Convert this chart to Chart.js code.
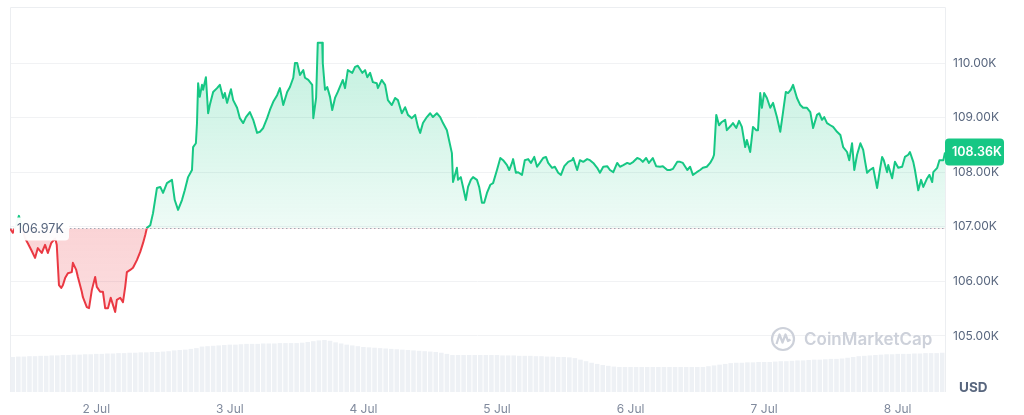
<!DOCTYPE html>
<html><head><meta charset="utf-8">
<script src="https://cdn.jsdelivr.net/npm/chart.js@4.4.1/dist/chart.umd.min.js"></script>
<style>html,body{margin:0;padding:0;background:#fff}canvas{display:block}</style>
</head><body>
<canvas id="c" width="1024" height="415"></canvas>
<script>
// ---- data (hours since 1 Jul 00:00, price in thousands USD) ----
const times = [
 8.5,9.0,9.6,10.1,10.7,11.2,11.7,12.3,13.0,13.5,14.2,14.8,15.3,15.9,16.6,16.9,17.3,17.7,18.0,18.4,18.9,19.6,19.8,20.4,20.7,21.4,21.6,22.3,22.7,23.2,23.8,24.1,24.7,25.2,25.6,26.1,26.6,27.0,27.4,27.7,28.3,28.8,29.2,29.5,30.1,30.6,31.3,31.9,32.4,32.8,33.1,33.7,
 34.2,34.9,35.5,36.0,36.7,37.6,38.1,38.7,39.4,39.9,40.5,41.2,41.4,41.9,42.1,42.3,42.6,43.0,43.2,43.7,
 44.1,44.4,45.0,45.7,46.2,46.8,47.1,47.5,48.2,48.6,49.3,49.8,50.4,50.9,51.6,52.2,52.9,53.4,54.0,54.7,
 55.2,55.8,56.5,57.0,57.6,58.3,58.8,59.4,59.7,60.1,60.6,61.2,61.5,62.1,62.8,63.0,63.5,63.8,64.6,64.7,
 65.1,65.5,66.0,66.4,66.9,67.4,68.3,68.7,69.2,70.0,70.5,71.0,71.8,72.3,72.7,73.2,73.7,74.4,74.6,75.3,
 75.9,76.4,77.1,77.7,78.2,78.9,79.5,80.0,80.7,81.3,81.8,82.2,82.7,83.4,84.0,84.5,85.2,85.8,86.3,87.0,
 87.9,88.1,88.8,89.0,89.5,89.9,90.4,90.8,91.3,91.7,92.4,92.8,93.3,93.7,94.2,94.8,95.3,96.0,96.6,97.1,
 97.8,98.2,98.7,98.9,99.4,99.8,100.5,101.0,101.6,102.1,102.7,103.2,103.7,104.3,104.8,105.2,105.9,106.4,107.0,107.5,
 108.1,108.8,109.5,109.7,110.4,110.9,111.5,112.2,112.7,113.3,114.0,114.5,115.1,115.8,116.3,116.9,117.6,118.1,118.7,119.4,
 119.9,120.5,121.2,121.7,122.2,122.8,123.3,124.0,124.6,125.3,125.8,126.6,127.1,127.6,128.4,128.9,129.4,130.2,130.7,131.2,
 131.9,132.5,133.0,133.7,134.3,134.8,135.0,135.4,135.9,136.4,137.0,137.3,138.1,138.4,139.0,139.5,140.0,140.6,140.9,141.5,
 142.0,142.6,142.9,143.3,143.6,144.0,144.5,145.1,145.6,146.3,146.9,147.4,147.9,148.3,148.8,149.2,149.9,150.5,151.0,151.7,
 152.3,152.8,153.5,153.9,154.4,154.8,155.3,155.9,156.4,157.1,157.7,158.2,158.9,159.3,159.8,160.2,160.7,161.3,161.8,162.1,
 162.5,163.0,163.6,164.3,164.8,165.2,165.5,166.1,166.3,167.0,167.5,168.1,168.8,169.3,169.9,170.2,170.8,171.1,171.7,172.2,
 172.6,173.3,173.7,174.2,174.4,175.1,175.5,176.2,176.5
];
const prices = [
 106.97,106.89,107.03,107.20,106.98,106.79,106.70,106.58,106.43,106.61,106.52,106.67,106.52,106.70,106.79,106.67,105.93,105.88,105.93,106.06,106.15,106.17,106.34,106.21,106.08,105.81,105.71,105.53,105.51,105.84,106.08,105.90,105.81,105.81,105.51,105.51,105.70,105.57,105.44,105.66,105.70,105.62,105.90,106.17,106.21,106.25,106.39,106.54,106.70,106.85,106.98,107.03,
 107.25,107.71,107.73,107.62,107.80,107.86,107.49,107.31,107.49,107.67,107.91,108.04,108.46,108.53,108.90,109.63,109.38,109.60,109.51,109.74,
 109.08,109.23,109.47,109.54,109.60,109.36,109.45,109.27,109.52,109.32,109.18,108.99,108.90,109.01,109.10,108.96,108.72,108.74,108.81,108.99,
 109.14,109.29,109.41,109.54,109.23,109.47,109.56,109.73,110.00,110.00,109.78,109.87,109.73,109.69,109.60,108.99,109.36,110.37,110.37,110.00,
 109.51,109.56,109.38,109.14,109.36,109.47,109.69,109.54,109.87,109.82,109.93,109.95,109.82,109.87,109.74,109.82,109.65,109.63,109.54,109.69,
 109.60,109.32,109.23,109.36,109.32,109.08,109.19,109.05,108.99,109.05,108.83,108.72,108.90,109.01,109.08,109.01,109.08,109.01,108.90,108.77,
 108.35,107.82,108.08,107.86,107.91,107.73,107.49,107.73,107.86,107.91,107.86,107.73,107.44,107.44,107.62,107.77,107.80,108.04,108.26,108.22,
 108.13,108.04,108.17,108.24,107.99,108.00,107.95,108.22,108.24,108.17,108.28,108.10,108.17,108.26,108.28,108.17,108.08,108.10,107.99,107.95,
 108.11,108.19,108.22,108.26,108.04,108.22,108.19,108.24,108.22,108.17,108.08,107.99,108.10,108.11,108.04,108.00,108.17,108.10,108.13,108.17,
 108.15,108.19,108.26,108.24,108.19,108.26,108.17,108.26,108.11,108.10,108.11,108.04,108.04,108.06,108.19,108.19,108.17,108.04,108.10,107.95,
 108.00,108.04,108.08,108.10,108.17,108.26,108.32,109.05,108.86,108.92,108.96,108.77,108.86,108.90,108.81,108.94,108.83,108.46,108.59,108.37,
 108.83,108.77,108.77,109.45,109.18,109.45,109.36,109.18,109.27,109.01,108.74,109.10,109.47,109.45,109.51,109.60,109.36,109.23,109.18,109.18,
 109.10,108.81,109.05,109.08,108.96,109.01,108.90,108.86,108.83,108.74,108.68,108.46,108.37,108.22,108.53,108.04,108.32,108.53,108.41,108.22,
 107.99,108.04,108.08,107.71,108.04,108.28,108.22,108.00,108.13,107.89,108.19,108.08,108.10,108.28,108.32,108.37,108.19,108.04,107.67,107.86,
 107.73,107.89,107.95,107.82,108.00,108.08,108.22,108.22,108.36
];
// hourly volume (billions USD), one bar per hour starting at hour 9
const volStartHour = 9;
const volumes = [
 9.1,9.2,9.2,9.3,9.3,9.4,9.4,9.5,9.5,9.6,9.6,9.7,9.7,9.8,9.8,9.9,
 9.9,10.0,10.0,10.1,10.1,10.2,10.2,10.3,10.3,10.4,10.4,
 10.5,10.6,10.8,10.9,11.0,11.2,11.4,
 11.8,11.9,12.0,12.1,12.2,12.3,12.3,12.4,12.5,12.5,
 12.5,12.6,12.6,12.6,12.7,12.7,12.7,12.7,12.8,
 13.0,13.2,13.4,13.5,13.3,
 12.9,12.6,12.3,12.1,11.9,11.7,11.6,11.5,11.4,
 11.3,11.2,11.1,11.0,10.9,10.8,10.7,10.6,10.5,10.4,10.2,9.9,9.6,
 9.6,9.6,9.6,9.6,9.6,9.6,9.6,9.6,9.5,9.5,9.5,9.4,9.4,9.4,9.3,9.3,9.2,9.2,9.1,9.1,
 9.0,8.8,8.4,8.0,7.6,7.3,
 7.0,6.8,6.6,
 6.5,6.5,6.5,6.5,6.5,6.5,6.5,6.5,6.5,6.5,6.5,6.5,6.5,6.5,6.5,6.5,
 6.7,6.9,7.1,7.3,7.5,
 7.6,7.6,7.7,7.7,7.8,7.8,7.8,7.9,
 8.0,8.0,8.1,8.2,8.2,8.3,8.4,8.4,8.5,8.6,8.6,8.7,
 8.9,9.1,9.3,9.4,9.5,9.6,9.7,
 9.8,9.8,9.9,9.9,9.9,10.0,10.0,10.1,10.1,10.1,10.2
];
const BASE = 106.97;      // reference (open) price
const LAST = 108.36;      // current price
const yTicks = [105, 106, 107, 108, 109, 110];
const dayTicks = [24, 48, 72, 96, 120, 144, 168];
const dayLabels = ['2 Jul','3 Jul','4 Jul','5 Jul','6 Jul','7 Jul','8 Jul'];
const X_MIN = 8.5, X_MAX = 176.5;
const Y_MIN = 103.974, Y_MAX = 111.026;

const GREEN = '#16c784', RED = '#ea3943';
const gradCache = {};
function grad(chart, kind) {
  const {ctx, chartArea, scales} = chart;
  if (!chartArea || !scales.y) return kind === 'line' ? GREEN : 'rgba(22,199,132,0.15)';
  const key = kind + chartArea.top + '_' + chartArea.bottom;
  if (gradCache[key]) return gradCache[key];
  const y0 = chartArea.top, y1 = chartArea.bottom;
  const f = Math.min(1, Math.max(0, (scales.y.getPixelForValue(BASE) - y0) / (y1 - y0)));
  const g = ctx.createLinearGradient(0, y0, 0, y1);
  if (kind === 'line') {
    g.addColorStop(0, GREEN); g.addColorStop(f, GREEN);
    g.addColorStop(f, RED); g.addColorStop(1, RED);
  } else {
    g.addColorStop(0, 'rgba(22,199,132,0.30)');
    g.addColorStop(f, 'rgba(22,199,132,0.07)');
    g.addColorStop(f, 'rgba(234,57,67,0.22)');
    g.addColorStop(1, 'rgba(234,57,67,0.12)');
  }
  gradCache[key] = g;
  return g;
}

function rr(ctx, x, y, w, h, r) {
  ctx.beginPath();
  ctx.moveTo(x + r, y);
  ctx.lineTo(x + w - r, y); ctx.quadraticCurveTo(x + w, y, x + w, y + r);
  ctx.lineTo(x + w, y + h - r); ctx.quadraticCurveTo(x + w, y + h, x + w - r, y + h);
  ctx.lineTo(x + r, y + h); ctx.quadraticCurveTo(x, y + h, x, y + h - r);
  ctx.lineTo(x, y + r); ctx.quadraticCurveTo(x, y, x + r, y);
  ctx.closePath();
}

const deco = {
  id: 'deco',
  beforeDatasetsDraw(chart) {
    const {ctx, chartArea: a} = chart;
    ctx.save();
    ctx.strokeStyle = '#eceef1'; ctx.lineWidth = 1;
    ctx.beginPath();
    ctx.moveTo(a.left + 0.5, a.bottom);
    ctx.lineTo(a.left + 0.5, a.top + 0.5);
    ctx.lineTo(a.right + 0.5, a.top + 0.5);
    ctx.lineTo(a.right + 0.5, a.bottom);
    ctx.stroke();
    // watermark
    const cx = 783, cy = 339;
    ctx.strokeStyle = '#cdd1da'; ctx.lineWidth = 2.2;
    ctx.beginPath(); ctx.arc(cx, cy, 11, 0, Math.PI * 2); ctx.stroke();
    ctx.beginPath();
    ctx.moveTo(cx - 6.5, cy + 5);
    ctx.lineTo(cx - 3.5, cy - 4.5);
    ctx.lineTo(cx - 0.5, cy + 3.5);
    ctx.lineTo(cx + 2.5, cy - 4.5);
    ctx.lineTo(cx + 5, cy + 2);
    ctx.lineTo(cx + 7.5, cy + 0.5);
    ctx.lineJoin = 'round'; ctx.stroke();
    ctx.fillStyle = '#cdd1da';
    ctx.font = '600 17px Inter';
    ctx.textBaseline = 'middle'; ctx.textAlign = 'left';
    ctx.fillText('CoinMarketCap', 804, 340);
    ctx.restore();
  },
  afterDatasetsDraw(chart) {
    const {ctx, chartArea: a, scales} = chart;
    const yb = Math.round(scales.y.getPixelForValue(BASE)) + 0.5;
    ctx.save();
    ctx.strokeStyle = '#a3a9b5'; ctx.lineWidth = 1;
    ctx.setLineDash([1.5, 2.5]);
    ctx.beginPath(); ctx.moveTo(a.left, yb); ctx.lineTo(a.right, yb); ctx.stroke();
    ctx.setLineDash([]);
    // open price label
    ctx.fillStyle = 'rgba(255,255,255,0.95)';
    rr(ctx, 14, yb - 11, 55, 23, 4); ctx.fill();
    ctx.fillStyle = '#58667e';
    ctx.font = '12.5px Inter'; ctx.textBaseline = 'middle'; ctx.textAlign = 'left';
    ctx.fillText(BASE.toFixed(2) + 'K', 17, yb + 1);
    // current price tag
    const yl = scales.y.getPixelForValue(LAST);
    ctx.fillStyle = GREEN;
    rr(ctx, a.right, yl - 14, 59, 27, 4); ctx.fill();
    ctx.fillStyle = '#ffffff';
    ctx.font = '600 12.5px Inter';
    ctx.fillText(LAST.toFixed(2) + 'K', a.right + 7, yl);
    // currency
    ctx.fillStyle = '#58667e';
    ctx.font = '700 13.5px Inter';
    ctx.fillText('USD', 959, 388);
    ctx.restore();
  }
};

const volData = volumes.map((v, i) => ({x: volStartHour + i, y: v}));
const priceData = times.map((t, i) => ({x: t, y: prices[i]}));

new Chart(document.getElementById('c'), {
  type: 'line',
  data: {
    datasets: [
      {
        type: 'line', data: priceData, yAxisID: 'y', order: 1,
        borderWidth: 2, pointRadius: 0, pointHoverRadius: 0, tension: 0,
        borderJoinStyle: 'round',
        fill: {target: {value: BASE}},
        borderColor: c => grad(c.chart, 'line'),
        backgroundColor: c => grad(c.chart, 'fill')
      },
      {
        type: 'bar', data: volData, yAxisID: 'yv', order: 2,
        backgroundColor: '#eef1f5', borderWidth: 0,
        barPercentage: 0.82, categoryPercentage: 1
      }
    ]
  },
  options: {
    responsive: false, animation: false, devicePixelRatio: 1,
    layout: {padding: {left: 10, top: 7, right: 0, bottom: 0}},
    plugins: {legend: {display: false}, tooltip: {enabled: false}},
    scales: {
      x: {
        type: 'linear', min: X_MIN, max: X_MAX, offset: false, bounds: 'ticks',
        grid: {display: false, drawTicks: false, offset: false}, border: {display: false},
        afterBuildTicks: s => { s.ticks = dayTicks.map(v => ({value: v})); },
        afterFit: s => { s.height = 23; s.paddingLeft = 0; s.paddingRight = 0; },
        ticks: {
          callback: v => dayLabels[dayTicks.indexOf(v)],
          color: '#808a9d', font: {family: 'Inter', size: 12},
          padding: 10, maxRotation: 0, autoSkip: false
        }
      },
      y: {
        position: 'right', min: Y_MIN, max: Y_MAX,
        afterBuildTicks: s => { s.ticks = yTicks.map(v => ({value: v})); },
        afterFit: s => { s.width = 79; s.paddingTop = 0; s.paddingBottom = 0; },
        grid: {color: '#f1f2f4', drawTicks: false},
        border: {display: false},
        ticks: {
          callback: v => Number(v).toFixed(2) + 'K',
          padding: 8, color: '#58667e', font: {family: 'Inter', size: 12}
        }
      },
      yv: {display: false, min: 0, max: 100}
    }
  },
  plugins: [deco]
});
</script>
</body></html>
